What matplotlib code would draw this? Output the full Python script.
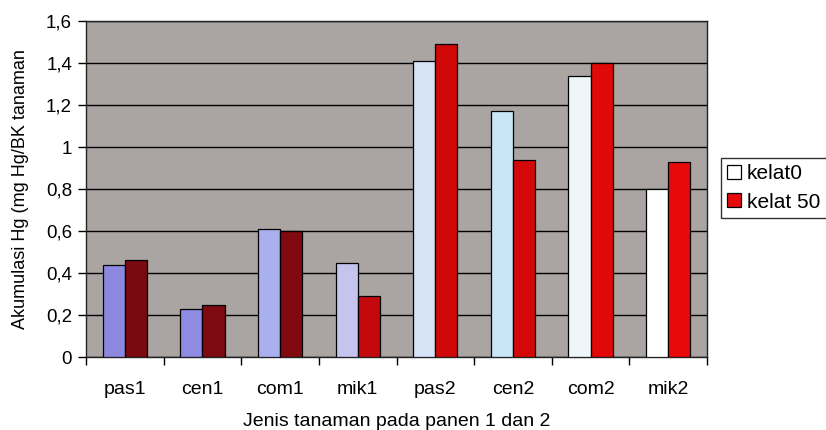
import matplotlib
matplotlib.use("Agg")
import matplotlib.pyplot as plt
import numpy as np

plt.rcParams['font.family'] = ['Liberation Sans', 'DejaVu Sans']

categories = ["pas1", "cen1", "com1", "mik1", "pas2", "cen2", "com2", "mik2"]
kelat0 = [0.44, 0.23, 0.61, 0.45, 1.41, 1.17, 1.34, 0.80]
kelat50 = [0.46, 0.25, 0.60, 0.29, 1.49, 0.94, 1.40, 0.93]
yticks = [0, 0.2, 0.4, 0.6, 0.8, 1.0, 1.2, 1.4, 1.6]
ytick_labels = ["0", "0,2", "0,4", "0,6", "0,8", "1", "1,2", "1,4", "1,6"]

# per-bar fills (shade varies across the groups)
colors0 = ["#8c88e0", "#8f8ae2", "#aab0ee", "#c4c4ee", "#d6e2f6", "#c8e6f6", "#eef6fa", "#ffffff"]
colors50 = ["#7a0a0e", "#7c0a10", "#800a10", "#c20a0e", "#d00808", "#d40808", "#e00808", "#e80a0a"]

fig = plt.figure(figsize=(8.26, 4.30), dpi=100)
ax = fig.add_axes([86 / 826, 1 - 357 / 430, (707 - 86) / 826, (357 - 21) / 430])
ax.set_facecolor("#aaa5a3")

x = np.arange(len(categories))
w = 0.285
b0 = ax.bar(x - w / 2, kelat0, w, color=colors0, edgecolor="black", linewidth=0.9, zorder=3)
b1 = ax.bar(x + w / 2, kelat50, w, color=colors50, edgecolor="black", linewidth=0.9, zorder=3)

ax.set_xlim(-0.5, len(categories) - 0.5)
ax.set_ylim(0, 1.6)
ax.set_yticks(yticks)
ax.set_yticklabels(ytick_labels, fontsize=13.5)
ax.yaxis.grid(True, color="black", linewidth=1.0, zorder=1)
ax.set_axisbelow(True)

# category ticks sit on the group boundaries, labels at the centres
ax.set_xticks(np.arange(-0.5, len(categories), 1.0))
ax.set_xticklabels([])
ax.set_xticks(x, minor=True)
ax.set_xticklabels(categories, minor=True, fontsize=14)
ax.tick_params(axis="x", which="major", length=6, direction="out", width=1)
ax.tick_params(axis="x", which="minor", length=0, pad=17)
ax.tick_params(axis="y", length=6, width=1, pad=4)

for s in ax.spines.values():
    s.set_color("#222222")
    s.set_linewidth(1.0)

ax.set_xlabel("Jenis tanaman pada panen 1 dan 2", fontsize=14, labelpad=11)
ax.set_ylabel("Akumulasi Hg (mg Hg/BK tanaman", fontsize=13, labelpad=12)

leg = ax.legend([b0[-1], b1[-1]], ["kelat0", "kelat 50"],
                loc="center left", bbox_to_anchor=(721 / 826, 1 - 188 / 430),
                bbox_transform=fig.transFigure, fontsize=15, frameon=True,
                fancybox=False, edgecolor="black", borderpad=0.3,
                handlelength=0.65, handleheight=0.65, handletextpad=0.3,
                labelspacing=0.45, borderaxespad=0)
leg.get_frame().set_linewidth(1.0)

fig.savefig("out.png", dpi=100)
